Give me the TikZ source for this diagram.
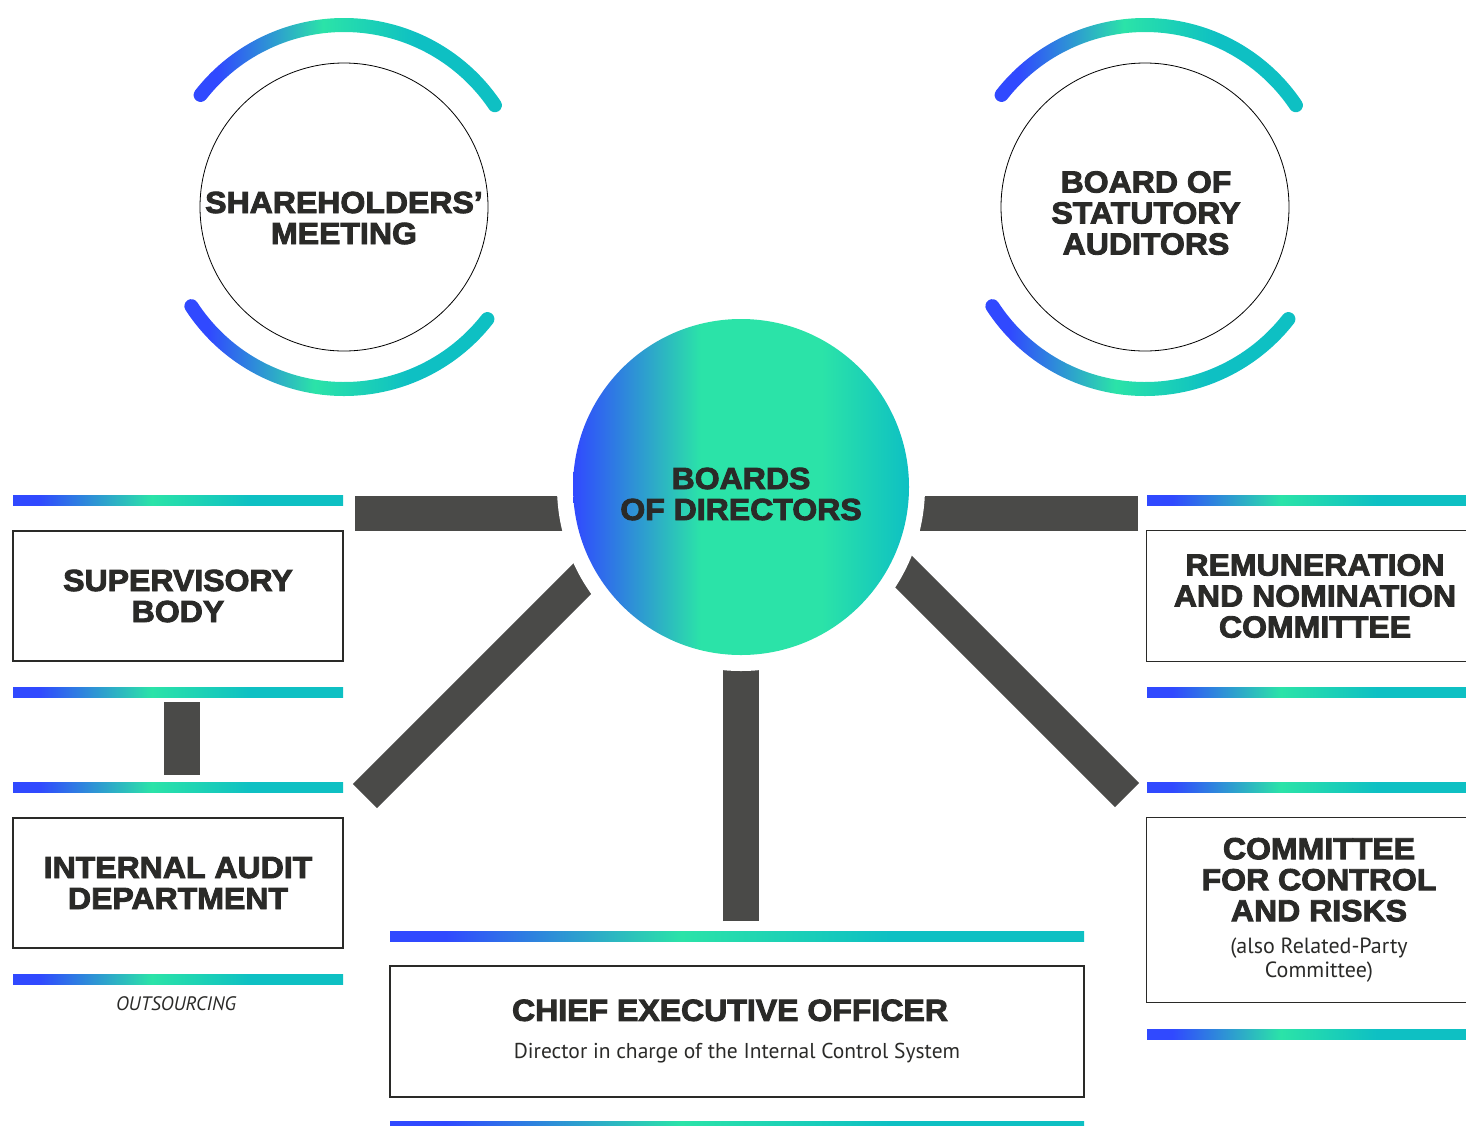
\documentclass[tikz,border=0pt]{standalone}
\usepackage{fontspec}
\setmainfont{Liberation Sans}
\newfontfamily\heavyfont[FakeBold=3, FakeStretch=1.05]{Liberation Sans Bold}
\newfontfamily\plainfont{PT Sans}
\newcommand{\subfont}{\plainfont\fontsize{22}{26}\selectfont}
\usetikzlibrary{positioning,backgrounds}
\usepackage{xcolor}

\definecolor{brandblue}{HTML}{3049FF}
\definecolor{brandgreen}{HTML}{2BE3A8}
\definecolor{brandteal}{HTML}{0EC0C3}
\definecolor{linkgray}{HTML}{4A4A48}
\definecolor{inkgray}{HTML}{2A2A28}

\pgfdeclarehorizontalshading{stripfade}{100bp}{color(0bp)=(brandblue); color(29bp)=(brandblue); color(46bp)=(brandgreen); color(61bp)=(brandteal); color(100bp)=(brandteal)}
\pgfdeclarehorizontalshading{discfade}{100bp}{color(0bp)=(brandblue); color(25bp)=(brandblue); color(44bp)=(brandgreen); color(62bp)=(brandgreen); color(75bp)=(brandteal); color(100bp)=(brandteal)}

\begin{document}
\begin{tikzpicture}[
    x=1pt, y=1pt,
    ring/.style={draw=black, line width=0.8, circle, minimum size=288, inner sep=0},
    ringtext/.style={font=\heavyfont\fontsize{30.5}{31}\selectfont, text=inkgray, align=center},
    halo/.style={circle, fill=white, minimum size=368, inner sep=0},
    disc/.style={circle, shading=discfade, minimum size=336, inner sep=0},
    unitbox/.style={draw=inkgray, line width=1.2, minimum width=330, minimum height=130, align=center, inner sep=0, text=inkgray, font=\heavyfont\fontsize{30.5}{31}\selectfont},
    boxline/.style={draw=inkgray, line width=1.2},
    link/.style={draw=linkgray, line width=35, line cap=butt},
    strip/.style={shading=stripfade}
]
\useasboundingbox (0,0) rectangle (1466,-1125);
\clip (0,0) rectangle (1466,-1125);

% top circles with their arcs
\node[ring] (share) at (344,-207) {};
\node[ringtext] (share-text) at ([yshift=-11]share.center) {SHAREHOLDERS’\\MEETING};
\node[ring] (audit) at (1145,-207) {};
\node[ringtext] (audit-text) at ([xshift=1,yshift=-6]audit.center) {BOARD OF\\STATUTORY\\AUDITORS};

\foreach \cx in {344,1145} {
  \foreach \a/\b in {34/142, 213/322} {
    \shade[strip] (\cx,-207) ++(\a:189) arc[start angle=\a, end angle=\b, radius=189]
      arc[start angle=\b, delta angle=180, radius=7]
      arc[start angle=\b, end angle=\a, radius=175]
      arc[start angle=\a+180, delta angle=180, radius=7] -- cycle;
  }
}

% board in the middle
\node[halo] (board-halo) at (741,-487) {};
\node[disc] (board) at (741,-487) {};
\node[ringtext] (board-text) at ([yshift=-7]board.center) {BOARDS\\OF DIRECTORS};

% units
\node[unitbox] (sb) at (178,-596) {SUPERVISORY\\BODY};
\node[unitbox] (ia) at (178,-883) {INTERNAL AUDIT\\DEPARTMENT};
\node[unitbox, draw=none, minimum width=336] (rn) at (1315,-596) {REMUNERATION\\AND NOMINATION\\COMMITTEE};
\node[unitbox, draw=none, minimum width=344, minimum height=184] (cr) at (1319,-910)
  {COMMITTEE\\FOR CONTROL\\AND RISKS\\[1pt]{\subfont (also Related-Party}\\[-7pt]{\subfont Committee)}};
\draw[boxline] ([xshift=30]rn.north east) -- (rn.north west) -- (rn.south west) -- ([xshift=30]rn.south east);
\draw[boxline] ([xshift=30]cr.north east) -- (cr.north west) -- (cr.south west) -- ([xshift=30]cr.south east);
\node[unitbox, minimum width=694, minimum height=131, font=\heavyfont\fontsize{30.5}{38}\selectfont] (ceo) at (737,-1031.5)
  {CHIEF EXECUTIVE OFFICER\hspace*{14pt}\\{\plainfont\fontsize{21.5}{24}\selectfont Director in charge of the Internal Control System}};
\node[font=\plainfont\itshape\fontsize{19.5}{22}\selectfont, text=inkgray] (outs) at (176,-1004) {OUTSOURCING};

% gradient strips
\foreach \y in {495,687,782,974} \shade[strip] (13,-\y) rectangle (343,-\y-10);
\foreach \y in {495,687,782,1029} \shade[strip] (1147,-\y) rectangle (1466,-\y-10);
\foreach \y in {931,1121} \shade[strip] (390,-\y) rectangle (1084,-\y-10);

% links
\coordinate (sb-end) at (355,-513);
\coordinate (rn-end) at (1138,-513);
\coordinate (ceo-end) at (740.5,-921);
\coordinate (ia-end) at (365,-796);
\coordinate (cr-end) at (1127,-795);
\coordinate (sb-foot) at (182,-702);
\coordinate (ia-head) at (182,-775);
\begin{scope}[on background layer]
  \draw[link] (sb-end) -- (board.center |- sb-end);
  \draw[link] (rn-end) -- (board.center |- rn-end);
  \draw[link, line width=36] (ceo-end) -- (ceo-end |- board.center);
  \draw[link, line width=34] (ia-end) -- ++(235,235);
  \draw[link, line width=34] (cr-end) -- ++(-242,242);
\end{scope}
\draw[link, line width=36] (sb-foot) -- (ia-head);
\end{tikzpicture}
\end{document}
